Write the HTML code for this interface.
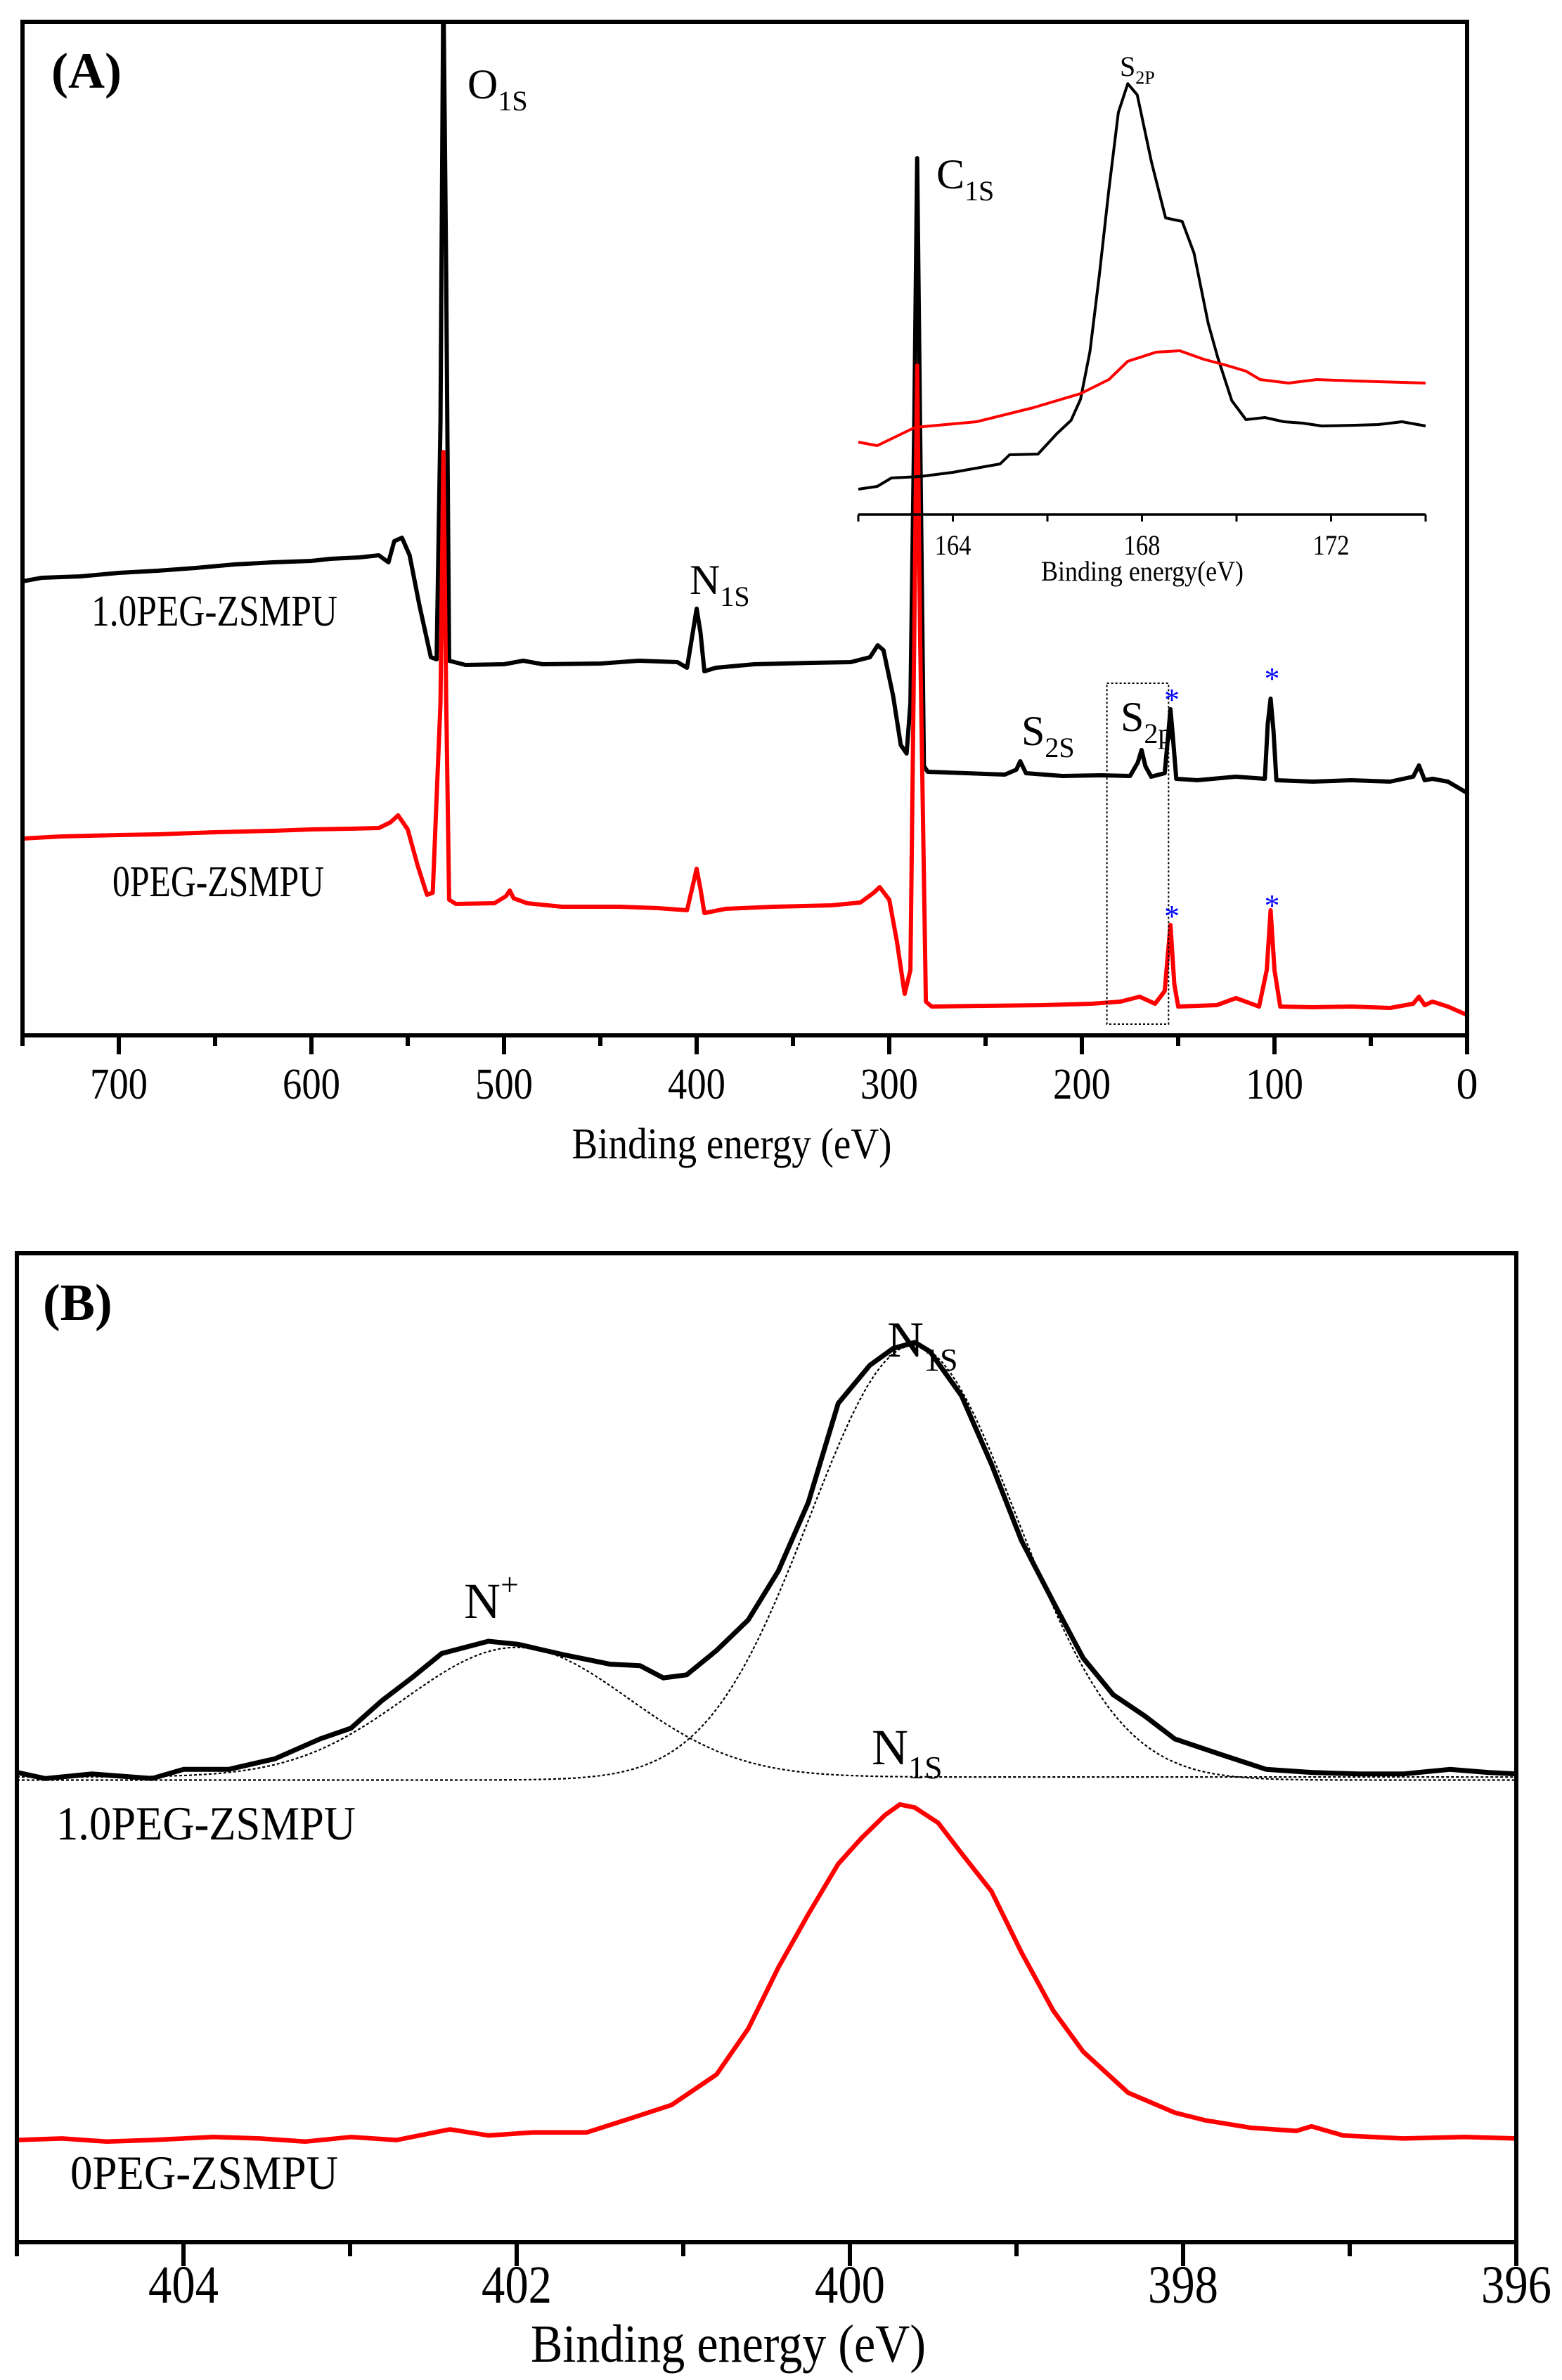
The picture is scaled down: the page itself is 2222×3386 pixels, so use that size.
<!DOCTYPE html>
<html><head><meta charset="utf-8"><style>
html,body{margin:0;padding:0;background:#fff}
svg{display:block}
text{font-family:"Liberation Serif",serif;fill:#000}
</style></head><body>
<svg id="chart" width="2222" height="3386" viewBox="0 0 2222 3386" xmlns="http://www.w3.org/2000/svg">
<g id="panelA"></g>
<g id="panelB"></g>
</svg>
<script>
// Panel A survey: [binding energy eV, intensity (a.u.)]
const surveyBlack = [[750,646],[740,651],[720,653],[700,658],[680,661],[660,665],[640,670],[620,673],[600,675],[590,678],[575,680],[565,683],[560,673],[557,703],[553,708],[549,683],[544,613],[538,538],[535,535],[533,873],[531.5,1500],[530,1073],[528.5,533],[520,527],[500,528],[490,533],[480,528],[450,529],[430,533],[410,531],[405,523],[402,573],[400,607],[398,573],[396,518],[390,523],[370,528],[340,530],[320,531],[310,538],[306,555],[303,548],[298,483],[294,413],[291,401],[289,473],[287,873],[285.5,1248],[284,873],[282,383],[280,375],[260,373],[240,371],[234,378],[232,390],[229,373],[210,369],[190,370],[175,369],[171,388],[169,406],[167,383],[164,368],[157,373],[155,433],[154,464],[153,433],[151,365],[140,363],[120,368],[105,365],[103.5,443],[102,479],[100.5,433],[99,363],[80,361],[60,363],[40,361],[28,368],[25,384],[22,363],[18,365],[10,361],[0,345]];
const surveyRed = [[750,280],[730,283],[700,285],[680,286],[650,289],[620,291],[600,293],[580,294],[565,295],[559,303],[555,313],[550,293],[545,243],[540,200],[537,203],[533,473],[531.5,830],[530,473],[528.5,193],[525,187],[505,188],[499,198],[497,206],[495,195],[488,188],[470,183],[440,183],[420,181],[405,178],[402,213],[400,237],[398,208],[396,174],[385,180],[360,183],[330,185],[315,189],[308,203],[305,211],[300,193],[296,133],[292,59],[289,93],[287,573],[285.5,953],[284,573],[281,48],[278,41],[250,42],[220,43],[195,45],[180,48],[170,55],[162,45],[157,63],[154,157],[152,73],[150,41],[130,43],[120,53],[108,41],[104,93],[102,178],[100,93],[97,41],[80,40],[60,41],[40,39],[28,45],[25,55],[22,43],[18,48],[10,41],[0,29]];
const surveyTicksMajor = [700,600,500,400,300,200,100,0];
const surveyTicksMinor = [750,650,550,450,350,250,150,50];
// Inset S2p: [eV, intensity]
const insetBlack = [[162,36],[162.4,40],[162.7,52],[163.3,54],[164,60],[164.5,66],[165,72],[165.2,85],[165.8,86],[166.2,115],[166.5,134],[166.7,164],[166.9,232],[167.1,342],[167.3,462],[167.5,572],[167.7,613],[167.9,597],[168.2,502],[168.5,422],[168.85,417],[169.1,372],[169.4,272],[169.6,224],[169.9,162],[170.2,135],[170.6,138],[171,132],[171.4,130],[171.8,126],[172.5,127],[173,128],[173.5,132],[174,126]];
const insetRed = [[162,103],[162.4,98],[163.2,124],[164.5,132],[165.7,152],[166.7,172],[167.3,192],[167.7,218],[168.3,231],[168.8,233],[169.3,221],[169.8,212],[170.2,204],[170.5,192],[171.1,187],[171.7,192],[172.5,190],[174,187]];
const insetTicksMajor = [164,168,172];
const insetTicksMinor = [162,166,170,174];
// Panel B N1s: [eV, intensity]
const n1sBlack = [[405,308],[404.83,304],[404.55,307],[404.19,304],[404.0,310],[403.73,310],[403.45,317],[403.18,330],[402.995,337],[402.81,355],[402.63,370],[402.45,386],[402.17,394],[401.99,392],[401.71,385],[401.44,379],[401.26,378],[401.12,370],[400.98,372],[400.80,388],[400.61,408],[400.43,440],[400.25,485],[400.07,550],[399.88,575],[399.74,586],[399.61,590],[399.52,584],[399.33,555],[399.15,510],[398.97,460],[398.78,420],[398.60,383],[398.42,359],[398.23,345],[398.05,330],[397.78,320],[397.50,310],[397.23,308],[396.95,307],[396.68,307],[396.40,310],[396.17,308],[396,307]];
const n1sRed = [[405,67],[404.73,68],[404.46,66],[404.19,67],[403.82,69],[403.54,68],[403.27,66],[402.995,69],[402.72,67],[402.40,74],[402.17,70],[401.90,72],[401.58,72],[401.35,80],[401.07,90],[400.80,110],[400.61,140],[400.43,180],[400.25,215],[400.07,248],[399.93,265],[399.79,280],[399.70,287],[399.61,285],[399.47,275],[399.33,255],[399.15,230],[398.97,190],[398.78,152],[398.60,125],[398.33,98],[398.05,85],[397.87,80],[397.59,75],[397.32,73],[397.23,76],[397.04,70],[396.68,68],[396.31,69],[396,68]];
const fitCenters = [402.0, 399.62];
const fitHeights = [85, 285];
const fitSigmas = [0.67, 0.62];
const fitBaseline = [305, 303];
const n1sTicksMajor = [404,402,400,398,396];
const n1sTicksMinor = [405,403,401,399,397];

const NS = "http://www.w3.org/2000/svg";
function mk(parent, tag, attrs){const e=document.createElementNS(NS,tag);for(const k in attrs)e.setAttribute(k,attrs[k]);parent.appendChild(e);return e;}
function lbl(parent,x,y,main,sub,size,subSize,name,supMode){
  const t=mk(parent,'text',{x:x,y:y,'font-size':size});
  
  
  t.appendChild(document.createTextNode(main));
  if(sub){const s=mk(t,'tspan',{'font-size':subSize,dy:supMode?-size*0.45:size*0.28});s.textContent=sub;}
  return t;
}
function pathFrom(data,xf,yf){return data.map((p,i)=>(i?'L':'M')+xf(p[0]).toFixed(1)+' '+yf(p[1]).toFixed(1)).join(' ');}

// ---------- Panel A ----------
const A = document.getElementById('panelA');
const aL=32,aR=2087,aT=31,aB=1473;
const ax = e => aL + (750-e)*(aR-aL)/750;
const ay = v => aB - v;
const clipA = mk(A,'clipPath',{id:'clipA'}); mk(clipA,'rect',{x:aL,y:aT,width:aR-aL,height:aB-aT});
let p = mk(A,'path',{d:pathFrom(surveyBlack,ax,ay),fill:'none',stroke:'#000','stroke-width':6,'stroke-linejoin':'round','clip-path':'url(#clipA)'});


p = mk(A,'path',{d:pathFrom(surveyRed,ax,ay),fill:'none',stroke:'#f00','stroke-width':6,'stroke-linejoin':'round','clip-path':'url(#clipA)'});


let fr = mk(A,'rect',{x:aL,y:aT,width:aR-aL,height:aB-aT,fill:'none',stroke:'#000','stroke-width':6});


surveyTicksMajor.forEach(e=>{
  const l=mk(A,'line',{x1:ax(e),x2:ax(e),y1:aB,y2:aB+27,stroke:'#000','stroke-width':6});
  
  
  const t=mk(A,'text',{x:ax(e),y:1563,'font-size':62,'text-anchor':'middle'});
  
  
  t.textContent=String(e);
  if(String(e).length==3){t.setAttribute('textLength',82);t.setAttribute('lengthAdjust','spacingAndGlyphs');}
});
surveyTicksMinor.forEach(e=>{
  const l=mk(A,'line',{x1:ax(e),x2:ax(e),y1:aB,y2:aB+15,stroke:'#000','stroke-width':6});
  
  
});
let tt=mk(A,'text',{x:1041,y:1648,'font-size':62,'text-anchor':'middle',textLength:455,lengthAdjust:'spacingAndGlyphs'});


tt.textContent='Binding energy (eV)';
let pt=mk(A,'text',{x:73,y:125,'font-size':72,'font-weight':'bold'});


pt.textContent='(A)';
lbl(A,665,140,'O','1S',60,40,'o1s-label');
lbl(A,1332,268,'C','1S',60,40,'c1s-label');
lbl(A,981,845,'N','1S',60,40,'n1s-label-a');
lbl(A,1453,1060,'S','2S',60,40,'s2s-label');
lbl(A,1594,1040,'S','2p',60,40,'s2p-label');
let sl=mk(A,'text',{x:130,y:890,'font-size':62,textLength:350,lengthAdjust:'spacingAndGlyphs'});


sl.textContent='1.0PEG-ZSMPU';
sl=mk(A,'text',{x:160,y:1275,'font-size':62,textLength:301,lengthAdjust:'spacingAndGlyphs'});


sl.textContent='0PEG-ZSMPU';
let box=mk(A,'rect',{x:ax(187),y:972,width:ax(155)-ax(187),height:485,fill:'none',stroke:'#000','stroke-width':2,'stroke-dasharray':'3 3'});


[[154,1010],[102,980],[154,1318],[102,1303]].forEach(s=>{
  const t=mk(A,'text',{x:ax(s[0])+2,y:s[1],'font-size':44,'text-anchor':'middle',style:'fill:#00f'});
  
  
  t.textContent='*';
});
// inset
const iL=1221,iR=2028,iAxis=732;
const ix = e => iL + (e-162)*(iR-iL)/12;
const iy = v => iAxis - v;
p = mk(A,'path',{d:pathFrom(insetBlack,ix,iy),fill:'none',stroke:'#000','stroke-width':4,'stroke-linejoin':'round'});


p = mk(A,'path',{d:pathFrom(insetRed,ix,iy),fill:'none',stroke:'#f00','stroke-width':4,'stroke-linejoin':'round'});


let ia=mk(A,'line',{x1:iL,x2:iR,y1:iAxis,y2:iAxis,stroke:'#000','stroke-width':3.5});


insetTicksMajor.concat(insetTicksMinor).forEach(e=>{
  const l=mk(A,'line',{x1:ix(e),x2:ix(e),y1:iAxis,y2:iAxis+10,stroke:'#000','stroke-width':3});
  
  
});
insetTicksMajor.forEach(e=>{
  const t=mk(A,'text',{x:ix(e),y:789,'font-size':40,'text-anchor':'middle',textLength:52,lengthAdjust:'spacingAndGlyphs'});
  
  
  t.textContent=String(e);
});
tt=mk(A,'text',{x:1625,y:826,'font-size':40,'text-anchor':'middle',textLength:288,lengthAdjust:'spacingAndGlyphs'});


tt.textContent='Binding energy(eV)';
lbl(A,1593,108,'S','2P',40,26,'inset-s2p-label');

// ---------- Panel B ----------
const B = document.getElementById('panelB');
const bL=24,bR=2157,bT=1783,bB=3190;
const bx = e => bL + (405-e)*(bR-bL)/9;
const by = v => bB - v*2.17;
fitCenters.forEach((c,k)=>{
  const pts=[];
  for(let e=405;e>=396-1e-9;e-=0.05){pts.push([e, fitBaseline[k]+fitHeights[k]*Math.exp(-((e-c)**2)/(2*fitSigmas[k]**2))]);}
  const d=mk(B,'path',{d:pathFrom(pts,bx,by),fill:'none',stroke:'#000','stroke-width':2.2,'stroke-dasharray':'4 3'});
  
  
});
p = mk(B,'path',{d:pathFrom(n1sBlack,bx,by),fill:'none',stroke:'#000','stroke-width':7,'stroke-linejoin':'round'});


p = mk(B,'path',{d:pathFrom(n1sRed,bx,by),fill:'none',stroke:'#f00','stroke-width':6.5,'stroke-linejoin':'round'});


fr = mk(B,'rect',{x:bL,y:bT,width:bR-bL,height:bB-bT,fill:'none',stroke:'#000','stroke-width':6});


n1sTicksMajor.forEach(e=>{
  const l=mk(B,'line',{x1:bx(e),x2:bx(e),y1:bB,y2:bB+34,stroke:'#000','stroke-width':6});
  
  
  const t=mk(B,'text',{x:bx(e),y:3276,'font-size':76,'text-anchor':'middle',textLength:100,lengthAdjust:'spacingAndGlyphs'});
  
  
  t.textContent=String(e);
});
n1sTicksMinor.forEach(e=>{
  const l=mk(B,'line',{x1:bx(e),x2:bx(e),y1:bB,y2:bB+20,stroke:'#000','stroke-width':6});
  
  
});
tt=mk(B,'text',{x:1036,y:3360,'font-size':76,'text-anchor':'middle',textLength:562,lengthAdjust:'spacingAndGlyphs'});


tt.textContent='Binding energy (eV)';
pt=mk(B,'text',{x:61,y:1878,'font-size':74,'font-weight':'bold'});


pt.textContent='(B)';
lbl(B,1262,1930,'N','1S',72,46,'n1s-label-upper');
lbl(B,1240,2510,'N','1S',72,46,'n1s-label-lower');
lbl(B,660,2302,'N','+',72,46,'n-plus-label',true);
sl=mk(B,'text',{x:80,y:2617,'font-size':68,textLength:426,lengthAdjust:'spacingAndGlyphs'});


sl.textContent='1.0PEG-ZSMPU';
sl=mk(B,'text',{x:100,y:3114,'font-size':68,textLength:381,lengthAdjust:'spacingAndGlyphs'});


sl.textContent='0PEG-ZSMPU';
</script>
</body></html>
